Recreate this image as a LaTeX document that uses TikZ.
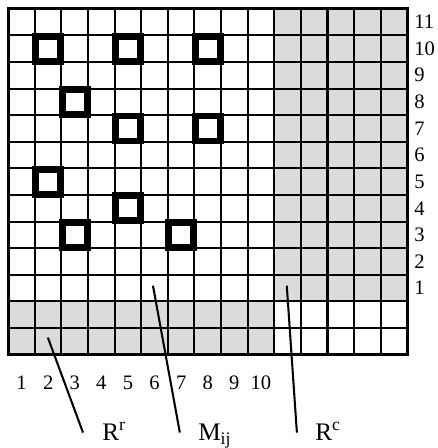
\documentclass[tikz,border=0pt]{standalone}
\usepackage{fontspec}
\setmainfont{Liberation Serif}
\definecolor{cellgray}{RGB}{219,219,219}

\begin{document}
\begin{tikzpicture}[
  x=0.5cm, y=0.5cm,
  num/.style={font=\fontsize{11}{13}\selectfont, inner sep=0pt},
  lbl/.style={font=\fontsize{13.5}{16}\selectfont, inner sep=0pt, anchor=base west},
  shade/.style={fill=cellgray},
  hit/.style={line width=3.6pt},
  ptr/.style={line width=1.1pt}
]
  \useasboundingbox (-0.31,-3.51) rectangle (16.12,13.33);

  % reserve rows and columns
  \fill[shade] (10,2) rectangle (15,13);
  \fill[shade] (0,0) rectangle (10,2);
  \draw[line width=1.1pt, step=0.5cm] (0,0) grid (15,13);
  \draw[line width=1.5pt] (0,0) rectangle (15,13);

  % occupied cells (column/row)
  \foreach \c/\r in {2/10,5/10,8/10,3/8,5/7,8/7,2/5,5/4,3/3,7/3}
    \draw[hit] (\c-0.97,\r+1.03) rectangle (\c-0.03,\r+1.97);

  \foreach \r in {1,...,11}
    \node[num, anchor=west] (row\r) at (15.25,\r+1.5) {\r};
  \foreach \c in {1,...,10}
    \node[num] (col\c) at (\c-0.5,-1.05) {\c};

  \coordinate (rr-tip) at (1.49,0.64);
  \coordinate (rr-end) at (2.81,-2.93);
  \coordinate (mij-tip) at (5.44,2.59);
  \coordinate (mij-end) at (6.45,-2.93);
  \coordinate (rc-tip) at (10.47,2.59);
  \coordinate (rc-end) at (10.85,-2.93);

  \node[lbl] (rr) at (3.52,-3.23) {R\textsuperscript{r}};
  \node[lbl] (mij) at (7.13,-3.23) {M\textsubscript{ij}};
  \node[lbl] (rc) at (11.53,-3.23) {R\textsuperscript{c}};

  \draw[ptr] (rr-tip) -- (rr-end);
  \draw[ptr] (mij-tip) -- (mij-end);
  \draw[ptr] (rc-tip) -- (rc-end);
\end{tikzpicture}
\end{document}
